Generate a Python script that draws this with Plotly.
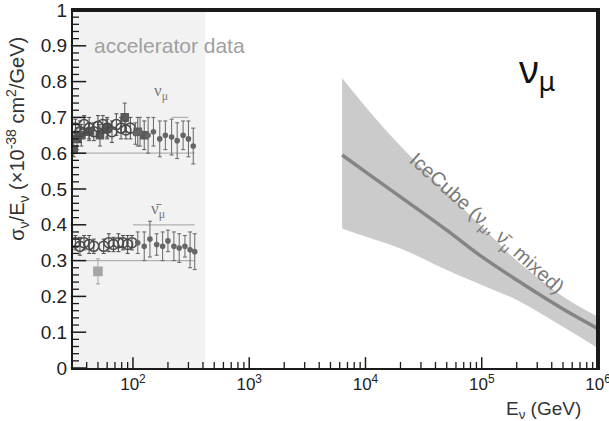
import numpy as np
import plotly.graph_objects as go

# ---- accelerator measurements: nu_mu ----
nu_E_circ = [32, 35, 38, 42, 46, 50, 55, 60, 66, 72, 79, 87, 95]
nu_v_circ = [0.67, 0.66, 0.68, 0.67, 0.66, 0.675, 0.68, 0.67, 0.66, 0.68, 0.67, 0.665, 0.67]
nu_e_circ = [0.025, 0.03, 0.025, 0.03, 0.025, 0.03, 0.025, 0.03, 0.03, 0.03, 0.03, 0.025, 0.03]

nu_E_sq = [31, 33, 36, 42, 52, 60, 85, 110, 125]
nu_v_sq = [0.61, 0.64, 0.65, 0.66, 0.65, 0.67, 0.70, 0.66, 0.65]
nu_e_sq = [0.02, 0.03, 0.03, 0.025, 0.03, 0.025, 0.04, 0.04, 0.04]

nu_E_sm = [105, 115, 135, 150, 170, 190, 215, 240, 270, 300, 330]
nu_v_sm = [0.655, 0.66, 0.65, 0.66, 0.64, 0.65, 0.645, 0.635, 0.65, 0.64, 0.62]
nu_e_sm = [0.03, 0.04, 0.05, 0.04, 0.05, 0.04, 0.05, 0.05, 0.04, 0.05, 0.05]

# ---- accelerator measurements: anti nu_mu ----
nb_E_circ = [32, 35, 38, 42, 46, 56, 62, 68, 75, 82, 90, 98]
nb_v_circ = [0.35, 0.34, 0.35, 0.345, 0.34, 0.34, 0.35, 0.345, 0.35, 0.35, 0.345, 0.35]
nb_e_circ = [0.02, 0.025, 0.02, 0.025, 0.02, 0.02, 0.025, 0.02, 0.025, 0.02, 0.025, 0.02]

nb_E_sq = [50]
nb_v_sq = [0.27]
nb_e_sq = [0.035]

nb_E_sm = [110, 125, 140, 160, 180, 200, 225, 250, 280, 310, 340]
nb_v_sm = [0.35, 0.34, 0.36, 0.345, 0.34, 0.355, 0.34, 0.335, 0.34, 0.33, 0.325]
nb_e_sm = [0.03, 0.04, 0.05, 0.03, 0.04, 0.03, 0.04, 0.04, 0.03, 0.05, 0.05]

# thin outline boxes of the accelerator world averages
box_lines = [
    ([31, 340], [0.60, 0.60]),
    ([215, 300], [0.70, 0.70]),
    ([100, 340], [0.40, 0.40]),
    ([34, 340], [0.30, 0.30]),
]

# ---- IceCube measurement (nu_mu + anti nu_mu mixed) ----
ic_E = [6300, 1e4, 2e4, 5e4, 1e5, 2e5, 5e5, 1e6]
ic_mid = [0.595, 0.548, 0.478, 0.385, 0.311, 0.246, 0.165, 0.11]
ic_low = [0.39, 0.367, 0.334, 0.274, 0.232, 0.19, 0.115, 0.055]
ic_high = [0.81, 0.73, 0.62, 0.49, 0.395, 0.30, 0.20, 0.143]

acc_region = [30.5, 420]

x_min, x_max = 30.5, 1e6
x_range = [np.log10(x_min), np.log10(x_max)]
x_major = [100, 1000, 10000, 100000, 1000000]
x_major_text = ["10<sup>2</sup>", "10<sup>3</sup>", "10<sup>4</sup>", "10<sup>5</sup>", "10<sup>6</sup>"]
x_minor = [m * 10 ** d for d in range(1, 6) for m in range(2, 10) if m * 10 ** d >= x_min]
y_major = [i / 10 for i in range(11)]
y_major_text = ["0", "0.1", "0.2", "0.3", "0.4", "0.5", "0.6", "0.7", "0.8", "0.9", "1"]
y_minor = [i / 50 for i in range(51) if i % 5 != 0]

PLOT_W, PLOT_H = 525, 358          # plotting area in pixels
px_x = (x_range[1] - x_range[0]) / PLOT_W   # decades per pixel
px_y = 1.0 / PLOT_H                          # y units per pixel
ink = "#1a1a1a"

fig = go.Figure()

# shaded accelerator-data region
fig.add_trace(go.Scatter(x=[acc_region[0], acc_region[1], acc_region[1], acc_region[0], acc_region[0]],
                         y=[0, 0, 1, 1, 0], mode="lines", fill="toself", fillcolor="#f2f2f2",
                         line=dict(width=0), showlegend=False, hoverinfo="skip"))

# reference boxes
for xs, ys in box_lines:
    fig.add_trace(go.Scatter(x=xs, y=ys, mode="lines",
                             line=dict(color="#b0b0b0", width=1.2),
                             showlegend=False, hoverinfo="skip"))


def add_points(E, v, e, symbol, size, color):
    fig.add_trace(go.Scatter(
        x=E, y=v, mode="markers",
        marker=dict(symbol=symbol, size=size, color=color,
                    line=dict(color=color, width=1.6)),
        error_y=dict(type="data", array=e, color=color, thickness=1, width=2),
        showlegend=False))


add_points(nu_E_sq, nu_v_sq, nu_e_sq, "square", 7, "#5a5a5a")
add_points(nu_E_circ, nu_v_circ, nu_e_circ, "circle-open", 10, "#4a4a4a")
add_points(nu_E_sm, nu_v_sm, nu_e_sm, "circle", 4, "#666666")
add_points(nb_E_circ, nb_v_circ, nb_e_circ, "circle-open", 10, "#4a4a4a")
add_points(nb_E_sq, nb_v_sq, nb_e_sq, "square", 8, "#a5a5a5")
add_points(nb_E_sm, nb_v_sm, nb_e_sm, "circle", 4, "#666666")

# IceCube band and central value
fig.add_trace(go.Scatter(x=ic_E, y=ic_low, mode="lines", line=dict(width=0, shape="spline"),
                         showlegend=False, hoverinfo="skip"))
fig.add_trace(go.Scatter(x=ic_E, y=ic_high, mode="lines", line=dict(width=0, shape="spline"),
                         fill="tonexty", fillcolor="#cbcbcb", showlegend=False, hoverinfo="skip"))
fig.add_trace(go.Scatter(x=ic_E, y=ic_mid, mode="lines",
                         line=dict(color="#858585", width=3.5, shape="spline"),
                         showlegend=False))


# inward tick marks: short line markers sitting against each axis
def add_ticks(vals, length, width, axis):
    if axis == "x":
        xs = vals
        ys = [length / 2 * px_y] * len(vals)
        sym = "line-ns"
    else:
        xs = [x_min * 10 ** (length / 2 * px_x)] * len(vals)
        ys = vals
        sym = "line-ew"
    fig.add_trace(go.Scatter(x=xs, y=ys, mode="markers", cliponaxis=False,
                             marker=dict(symbol=sym, size=length, color=ink,
                                         line=dict(color=ink, width=width)),
                             showlegend=False, hoverinfo="skip"))


add_ticks(x_major, 9, 1.5, "x")
add_ticks(x_minor, 5, 1.3, "x")
add_ticks(y_major, 11, 1.5, "y")
add_ticks(y_minor, 5, 1.3, "y")

# frame around the plotting area, one side at a time, kept just inside the edge
edge_x = x_max / 10 ** (1 * px_x)
edge_y = 1 - 1 * px_y
for fx, fy in [([x_min, x_max], [edge_y, edge_y]), ([edge_x, edge_x], [0, 1])]:
    fig.add_trace(go.Scatter(x=fx, y=fy, mode="lines", line=dict(color=ink, width=2),
                             showlegend=False, hoverinfo="skip"))

fig.update_layout(
    xaxis=dict(type="log", range=x_range, automargin=False,
               showline=True, linecolor=ink, linewidth=2, mirror=True,
               showgrid=False, zeroline=False,
               tickmode="array", tickvals=x_major, ticktext=x_major_text,
               ticks="", ticklabeloverflow="allow",
               tickfont=dict(family="Liberation Sans, Arial", size=17, color="#222222")),
    yaxis=dict(range=[0, 1], automargin=False,
               showline=True, linecolor=ink, linewidth=2, mirror=True,
               showgrid=False, zeroline=False,
               tickmode="array", tickvals=y_major, ticktext=y_major_text,
               ticks="", ticklabeloverflow="allow",
               tickfont=dict(family="Liberation Sans, Arial", size=19, color="#222222")),
)

grey = "#a0a0a0"
annotations = [
    dict(text="accelerator data", x=0.037, y=0.9, xref="paper", yref="y",
         xanchor="left", yanchor="middle", showarrow=False,
         font=dict(family="Liberation Sans, Arial", size=21, color=grey)),
    dict(text="ν<sub>μ</sub>", x=np.log10(175), y=0.77, xref="x", yref="y",
         showarrow=False, font=dict(family="Liberation Serif, Times New Roman", size=17, color="#777777")),
    dict(text="ν\u0304<sub>μ</sub>", x=np.log10(165), y=0.44, xref="x", yref="y",
         showarrow=False, font=dict(family="Liberation Serif, Times New Roman", size=17, color="#777777")),
    dict(text="ν<sub>μ</sub>", x=np.log10(300000), y=0.83, xref="x", yref="y",
         showarrow=False, font=dict(family="Noto Sans", size=38, color="#111111")),
    dict(text="IceCube (ν<sub>μ</sub>, ν\u0304<sub>μ</sub> mixed)", x=5.04, y=0.40,
         xref="x", yref="paper", textangle=42, showarrow=False,
         font=dict(family="Liberation Sans, Arial", size=20, color="#7a7a7a")),
    dict(text="σ<sub>ν</sub>/E<sub>ν</sub> (×10<sup>-38</sup> cm<sup>2</sup>/GeV)",
         x=-0.105, y=0.64, xref="paper", yref="paper", textangle=-90,
         xanchor="center", yanchor="middle", showarrow=False,
         font=dict(family="Liberation Sans, Arial", size=20, color="#333333")),
    dict(text="E<sub>ν</sub> (GeV)", x=0.971, y=-0.117, xref="paper", yref="paper",
         xanchor="right", yanchor="middle", showarrow=False,
         font=dict(family="Liberation Sans, Arial", size=19, color="#333333")),
]

fig.update_layout(width=609, height=421, margin=dict(l=73, r=11, t=10, b=53),
                  paper_bgcolor="white", plot_bgcolor="white",
                  annotations=annotations, showlegend=False)

fig.write_html("out.html")
